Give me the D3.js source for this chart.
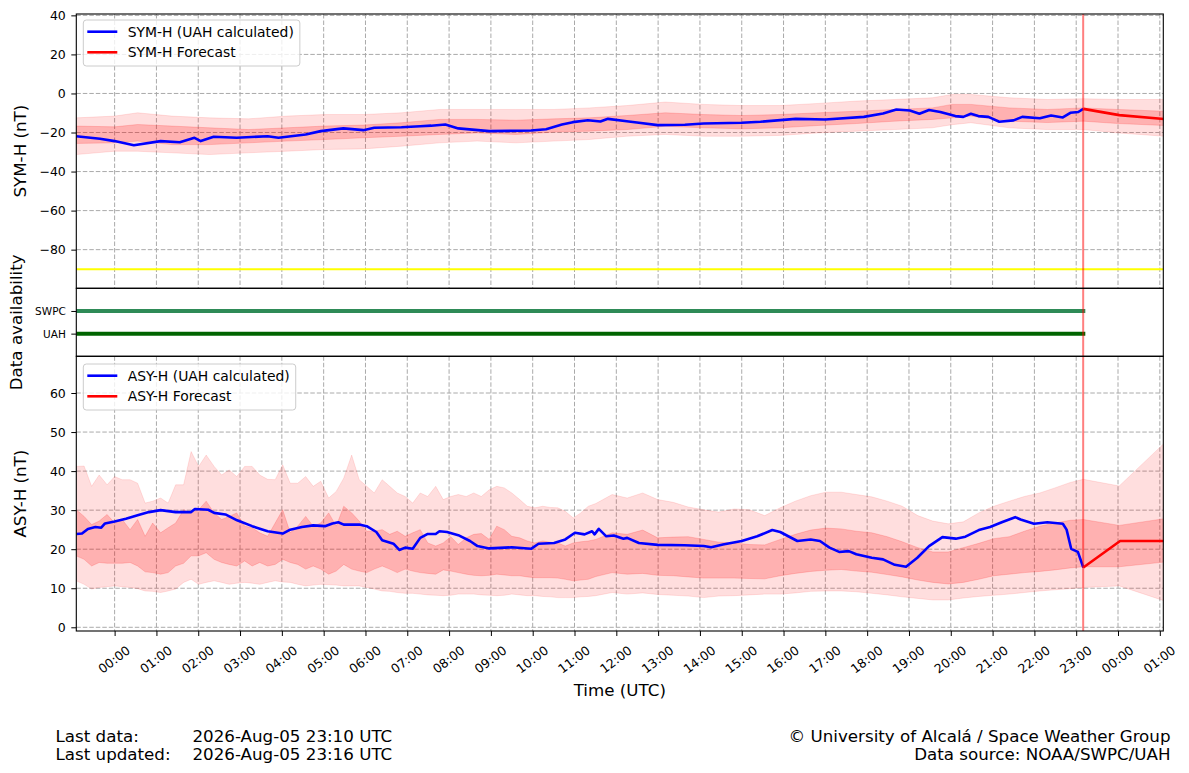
<!DOCTYPE html>
<meta charset="utf-8">
<html>
<head>
<script src="https://cdn.jsdelivr.net/npm/d3@7"></script>
<style>
body { margin: 0; background: #fff; }
text { font-family: "DejaVu Sans", sans-serif; fill: #000; }
</style>
<title>SYM-H / ASY-H forecast</title>
</head>
<body>
<script>
// all times are hours counted from 2026-08-05 00:00 UTC
var startHour = -55 / 60, endHour = 25 + 5 / 60, nowHour = 23 + 10 / 60;

// SYM-H (UAH calculated)
var symHours = [-0.92,-0.35,0,0.46,1.1,1.56,1.91,2.06,2.37,2.92,3.66,3.92,4.57,4.93,5.47,5.95,6.21,6.86,7.31,7.57,7.91,8.22,8.96,9.96,10.32,10.7,10.96,11.32,11.62,11.8,12.25,12.54,12.99,13.64,14.09,15.0,15.45,16.29,17.0,17.92,18.38,18.7,19.02,19.25,19.48,19.75,20.11,20.3,20.48,20.66,20.9,21.16,21.5,21.71,22.13,22.4,22.68,22.86,23.05,23.17];
var symValues = [-21.9,-23.2,-24.4,-26.5,-24.4,-25,-22.7,-24.4,-22.2,-22.7,-21.9,-22.7,-21,-19.3,-17.9,-18.8,-17.6,-17.3,-16.8,-16.5,-15.9,-17.9,-19.3,-19,-18.3,-15.9,-14.7,-13.7,-14.4,-13,-14.2,-15,-16.2,-16,-15.4,-15,-14.5,-13,-13.3,-12,-10.3,-8.2,-8.7,-10.4,-8.5,-9.5,-11.6,-12,-10.4,-11.6,-12,-14.5,-13.8,-12,-12.7,-11.3,-12.3,-9.9,-9.5,-7.9];
var symFcHours = [23.17, 24.03, 25.1];
var symFcValues = [-7.9, -11.1, -13.1];
// SYM-H uncertainty bands
var symBandHours = [-0.92,0,0.55,1.37,2.27,3.2,4.11,5.02,5.95,6.86,7.77,8.67,9.6,10.51,11.35,12.25,13.17,14.09,15.0,15.91,16.83,17.75,18.65,19.56,20.03,20.48,21.4,22.31,23.17,24.0,25.1];
var symOuterHigh = [-12.5,-11.6,-9.9,-11.6,-12.5,-13.0,-11.6,-10.8,-10.8,-9.9,-8.2,-8.2,-8.2,-8.2,-7.4,-6.2,-4.4,-5.6,-6.2,-6.2,-5.1,-3.9,-3.1,-2.2,-0.5,-0.5,-2.2,-3.1,-2.7,-3.1,-3.1];
var symOuterLow = [-31.3,-29.6,-29.6,-30.4,-31.3,-30.4,-29.6,-28.7,-28.4,-27.0,-25.3,-24.4,-25.3,-24.4,-23.6,-21.9,-21.0,-21.9,-21.9,-21.5,-20.2,-19.3,-18.5,-17.6,-16.0,-15.0,-17.6,-18.5,-18.5,-20.2,-21.9];
var symInnerHigh = [-16.7,-17.1,-15.9,-16.7,-17.6,-18.5,-17.6,-16.7,-16.2,-15.0,-13.3,-13.3,-13.7,-13.0,-12.5,-11.3,-9.9,-10.8,-11.3,-10.8,-9.9,-9.1,-8.2,-7.4,-5.6,-5.6,-7.4,-8.2,-7.4,-8.2,-9.1];
var symInnerLow = [-25.6,-25.3,-24.4,-26.2,-26.2,-25.3,-24.4,-23.6,-22.7,-21.9,-21.0,-20.2,-21.0,-19.8,-19.3,-18.5,-16.8,-17.6,-18.1,-17.6,-16.4,-15.4,-14.2,-13.3,-12.5,-11.6,-14.2,-14.9,-14.2,-15.4,-16.4];
var symThreshold = -90;
var symTicks = [-80, -60, -40, -20, 0, 20, 40];

// ASY-H (UAH calculated)
var asyHours = [-0.91,-0.78,-0.64,-0.46,-0.32,-0.23,0,0.27,0.55,0.82,1.1,1.46,1.83,1.92,2.24,2.38,2.65,2.93,3.29,3.66,4.02,4.2,4.48,4.75,5.03,5.21,5.35,5.48,5.85,6.03,6.26,6.4,6.67,6.81,6.95,7.13,7.31,7.49,7.68,7.77,7.95,8.22,8.5,8.68,8.96,9.5,9.96,10.14,10.51,10.78,11.01,11.24,11.42,11.48,11.58,11.76,11.94,12.17,12.26,12.54,12.99,13.63,14.09,14.27,14.55,15.0,15.37,15.73,15.92,16.33,16.65,16.87,17.1,17.33,17.56,17.74,18.11,18.38,18.66,18.93,19.2,19.48,19.8,20.12,20.35,20.67,20.94,21.22,21.54,21.67,21.99,22.31,22.68,22.77,22.88,23.04,23.17];
var asyValues = [23.9,24.0,25.2,25.7,25.5,26.6,27.1,27.8,28.7,29.5,30.0,29.5,29.5,30.3,30.1,29.3,28.9,27.4,25.9,24.6,24.0,25.0,25.7,26.1,25.9,26.6,26.9,26.3,26.3,25.9,24.4,22.3,21.4,19.8,20.4,20.1,22.9,23.9,23.9,24.6,24.4,23.6,22.1,20.8,20.2,20.5,20.1,21.4,21.6,22.5,24.2,23.8,24.6,23.8,25.2,23.3,23.5,22.7,22.9,21.6,21.1,21.0,20.8,20.5,21.2,22.1,23.3,24.9,24.4,22.1,22.5,22.1,20.4,19.3,19.5,18.7,17.8,17.4,16.0,15.5,17.8,20.8,23.1,22.7,23.2,24.9,25.7,26.9,28.2,27.6,26.5,26.9,26.5,25.0,20.1,19.3,15.3];
var asyFcHours = [23.17, 24.05, 25.1];
var asyFcValues = [15.3, 22.1, 22.1];
// ASY-H uncertainty bands
var asyBandHours = [-0.92,-0.73,-0.55,-0.37,-0.18,0,0.18,0.37,0.55,0.73,0.91,1.1,1.28,1.46,1.65,1.83,2.01,2.19,2.38,2.56,2.74,2.92,3.11,3.29,3.47,3.66,3.84,4.02,4.2,4.38,4.57,4.75,4.93,5.12,5.3,5.48,5.67,5.85,6.03,6.21,6.4,6.58,6.76,6.95,7.13,7.31,7.49,7.68,7.86,8.04,8.22,8.41,8.59,8.77,8.96,9.14,9.32,9.5,9.69,9.87,10.05,10.24,10.42,10.6,10.78,10.97,11.15,11.33,11.51,11.9,12.26,12.63,12.99,13.36,13.72,14.09,14.45,14.82,15.18,15.55,15.92,16.28,16.65,17.01,17.38,17.74,18.11,18.48,18.84,19.21,19.57,19.94,20.3,20.67,21.03,21.4,21.76,22.13,22.49,22.86,23.17,24.03,25.1];
var asyOuterLow = [11.9,11.0,9.8,10.2,10.4,10.6,10.4,10.2,9.9,9.3,9.2,8.9,9.3,9.8,11.5,12.3,11.0,11.5,11.9,11.5,11.0,11.3,11.5,11.3,11.0,11.5,11.9,11.6,11.5,11.0,10.6,10.8,11.0,10.9,10.8,10.6,10.6,10.6,10.2,9.8,9.3,9.2,8.9,8.7,8.7,8.5,8.3,8.2,8.1,8.2,8.5,8.5,8.5,8.3,8.2,8.1,8.2,8.5,8.3,8.1,8.1,7.9,7.8,7.6,7.6,7.6,7.8,7.9,8.1,8.9,8.5,8.8,8.4,8.2,8.0,7.6,8.0,8.1,8.3,8.5,8.5,8.8,9.2,9.3,9.3,9.1,8.7,8.3,7.8,7.4,7.0,7.0,7.5,7.9,8.2,8.5,8.9,9.3,9.6,9.9,10.2,10.6,6.8];
var asyInnerLow = [18.3,17.4,15.7,16.6,16.4,16.4,16.4,16.6,15.7,14.2,14.0,13.6,14.0,15.7,16.4,18.3,18.3,19.1,17.4,16.6,16.1,15.7,17.0,15.7,16.6,15.7,16.1,17.4,16.6,16.1,14.9,15.7,14.9,13.6,14.4,16.1,14.9,14.4,14.0,14.9,15.7,14.9,14.0,14.9,14.4,14.0,13.8,13.6,14.7,14.4,14.0,13.6,13.3,13.2,13.3,13.6,13.4,13.2,13.2,12.9,12.7,12.7,12.7,12.6,12.3,11.9,12.1,12.3,13.0,14.0,13.6,13.8,13.3,13.2,12.9,12.6,12.6,12.6,12.5,12.4,13.2,13.8,14.3,14.6,14.8,14.4,14.1,13.5,12.9,12.1,11.5,11.1,11.5,12.3,13.2,13.6,14.0,14.3,14.7,15.2,15.5,15.5,16.7];
var asyInnerHigh = [30.1,28.4,26.3,27.2,28.9,26.7,27.6,25.0,27.6,23.3,26.7,24.2,25.5,26.7,30.1,29.3,30.1,32.3,29.3,27.6,28.4,29.3,25.9,25.5,24.2,23.3,26.7,30.1,24.2,25.9,28.4,25.9,26.7,29.3,25.9,31.0,29.3,27.2,24.6,24.6,25.0,23.8,24.6,23.3,24.2,25.0,21.6,20.8,21.6,23.2,21.2,22.9,23.8,24.0,22.5,25.9,25.0,23.3,22.9,22.1,21.6,22.1,21.8,21.6,20.8,21.6,21.9,22.1,22.5,24.2,23.8,24.9,22.9,23.1,23.2,22.5,21.8,21.6,21.2,21.1,22.5,23.8,24.9,25.4,25.2,24.6,24.2,23.2,21.9,20.4,19.3,19.3,20.4,21.5,22.7,23.2,24.6,25.9,26.7,27.4,27.6,26.1,27.8];
var asyOuterHigh = [41.2,41.3,36.1,39.0,36.5,38.6,37.8,37.8,36.9,31.8,32.3,33.1,31.8,36.5,36.5,45.0,41.2,44.1,41.2,39.0,40.3,38.6,41.2,41.2,39.0,37.9,37.8,41.6,36.9,36.9,38.6,36.1,37.4,33.1,34.8,38.2,44.1,37.8,36.1,34.4,37.8,36.1,34.4,33.5,31.8,34.4,33.5,36.1,32.7,33.5,34.0,33.5,34.4,33.5,35.2,36.1,35.7,34.4,32.7,31.0,30.6,31.0,30.7,30.6,29.7,28.0,29.3,31.0,31.7,34.0,33.1,34.4,32.7,32.0,30.8,30.1,29.5,30.3,30.1,28.6,30.6,32.3,33.7,34.6,34.6,34.0,33.4,32.3,31.0,28.6,27.2,26.5,27.0,29.3,31.0,32.3,33.5,34.4,35.7,37.1,37.9,36.2,47.1];
var asyTicks = [0, 10, 20, 30, 40, 50, 60];

// data availability
var availSources = ["UAH", "SWPC"];
var availColors = ["#006400", "#2e8b57"];
var availFrom = [-0.92, -0.92];
var availTo = [23.17, 23.17];

var footerLeft = [["Last data:", "2026-Aug-05 23:10 UTC"], ["Last updated:", "2026-Aug-05 23:16 UTC"]];
var footerRight = ["\u00a9 University of Alcal\u00e1 / Space Weather Group", "Data source: NOAA/SWPC/UAH"];

var W = 1189, H = 773;
var plotLeft = 76.3, plotRight = 1163.3;
var topPanel = [14, 288.3], midPanel = [288.3, 356.3], botPanel = [356.3, 631];
var base = Date.UTC(2026, 7, 5);
function t(h) { return new Date(base + h * 3600e3); }

var x = d3.scaleUtc().domain([t(startHour), t(endHour)]).range([plotLeft, plotRight]);
var ySym = d3.scaleLinear().domain([-99.8, 40.7]).range([topPanel[1], topPanel[0]]);
var yAv = d3.scaleLinear().domain([-1, 2]).range([midPanel[1], midPanel[0]]);
var yAsy = d3.scaleLinear().domain([-0.95, 69.4]).range([botPanel[1], botPanel[0]]);
var hourTicks = x.ticks(d3.utcHour.every(1));

var svg = d3.select("body").append("svg").attr("width", W).attr("height", H);
svg.append("rect").attr("width", W).attr("height", H).attr("fill", "white");
var defs = svg.append("defs");

function makeClip(id, p) {
    defs.append("clipPath").attr("id", id).append("rect")
        .attr("x", plotLeft).attr("y", p[0]).attr("width", plotRight - plotLeft).attr("height", p[1] - p[0]);
}
makeClip("clipTop", topPanel);
makeClip("clipMid", midPanel);
makeClip("clipBot", botPanel);

function grid(g, y, p, ticks) {
    g.selectAll(".gx").data(hourTicks).enter().append("line")
        .attr("x1", d => x(d)).attr("x2", d => x(d)).attr("y1", p[0]).attr("y2", p[1])
        .attr("stroke", "#aaaaaa").attr("stroke-dasharray", "4.5,2").attr("stroke-width", 1);
    g.selectAll(".gy").data(ticks).enter().append("line")
        .attr("x1", plotLeft).attr("x2", plotRight).attr("y1", d => y(d)).attr("y2", d => y(d))
        .attr("stroke", "#aaaaaa").attr("stroke-dasharray", "4.5,2").attr("stroke-width", 1);
}

function band(g, y, hours, lo, hi, opacity) {
    var area = d3.area().x((d, i) => x(t(hours[i]))).y0((d, i) => y(lo[i])).y1((d, i) => y(hi[i]));
    g.append("path").datum(hours).attr("d", area)
        .attr("fill", "red").attr("fill-opacity", opacity)
        .attr("stroke", "red").attr("stroke-opacity", opacity * 0.8).attr("stroke-width", 1);
}

function series(g, y, hours, vals, color) {
    var line = d3.line().x((d, i) => x(t(hours[i]))).y((d, i) => y(vals[i]));
    g.append("path").datum(hours).attr("d", line)
        .attr("fill", "none").attr("stroke", color).attr("stroke-width", 2.6)
        .attr("stroke-linejoin", "round");
}

function nowLine(g, p) {
    g.append("line").attr("x1", x(t(nowHour))).attr("x2", x(t(nowHour)))
        .attr("y1", p[0]).attr("y2", p[1])
        .attr("stroke", "red").attr("stroke-opacity", 0.5).attr("stroke-width", 2);
}

function yAxis(y, ticks, fontSize) {
    var g = svg.append("g").attr("transform", "translate(" + plotLeft + ",0)")
        .call(d3.axisLeft(y).tickValues(ticks).tickSize(5).tickPadding(5.5));
    g.select(".domain").remove();
    g.selectAll(".tick line").attr("stroke", "#000");
    g.selectAll(".tick text").attr("font-size", fontSize).attr("font-family", "DejaVu Sans");
    return g;
}

function legend(y0, labels) {
    var g = svg.append("g");
    var box = g.append("rect").attr("x", 83.3).attr("y", y0).attr("height", 46).attr("rx", 3)
        .attr("fill", "white").attr("fill-opacity", 0.8).attr("stroke", "#cccccc");
    var maxLen = 0;
    labels.forEach(function(l, i) {
        var ly = y0 + 11.7 + i * 20.6;
        g.append("line").attr("x1", 87.3).attr("x2", 117.3).attr("y1", ly).attr("y2", ly)
            .attr("stroke", l[1]).attr("stroke-width", 2.6);
        var tx = g.append("text").attr("x", 127.7).attr("y", ly).attr("dy", "0.36em")
            .attr("font-size", 13.9).text(l[0]);
        maxLen = Math.max(maxLen, tx.node().getComputedTextLength());
    });
    box.attr("width", 127.7 + maxLen + 6 - 83.3);
}

function yLabel(text, bx, cy) {
    svg.append("text").attr("transform", "translate(" + bx + "," + cy + ") rotate(-90)")
        .attr("text-anchor", "middle").attr("font-size", 16.7).text(text);
}

// ---- top panel: SYM-H ----
var gTop = svg.append("g").attr("clip-path", "url(#clipTop)");
grid(gTop, ySym, topPanel, symTicks);
band(gTop, ySym, symBandHours, symOuterLow, symOuterHigh, 0.13);
band(gTop, ySym, symBandHours, symInnerLow, symInnerHigh, 0.2);
gTop.append("line").attr("x1", plotLeft).attr("x2", plotRight)
    .attr("y1", ySym(symThreshold)).attr("y2", ySym(symThreshold))
    .attr("stroke", "#ffff00").attr("stroke-width", 2);
series(gTop, ySym, symHours, symValues, "#0000ff");
series(gTop, ySym, symFcHours, symFcValues, "#ff0000");
nowLine(gTop, topPanel);
yAxis(ySym, symTicks, 12.5);
legend(20, [["SYM-H (UAH calculated)", "#0000ff"], ["SYM-H Forecast", "#ff0000"]]);
yLabel("SYM-H (nT)", 25.5, (topPanel[0] + topPanel[1]) / 2);

// ---- middle panel: data availability ----
var gMid = svg.append("g").attr("clip-path", "url(#clipMid)");
gMid.selectAll(".avail").data(availSources).enter().append("line")
    .attr("x1", (d, i) => x(t(availFrom[i]))).attr("x2", (d, i) => x(t(availTo[i])))
    .attr("y1", (d, i) => yAv(i)).attr("y2", (d, i) => yAv(i))
    .attr("stroke", (d, i) => availColors[i]).attr("stroke-width", 4).attr("stroke-linecap", "square");
nowLine(gMid, midPanel);
var avAxis = svg.append("g").attr("transform", "translate(" + plotLeft + ",0)")
    .call(d3.axisLeft(yAv).tickValues([0, 1]).tickSize(5).tickPadding(5.5).tickFormat(d => availSources[d]));
avAxis.select(".domain").remove();
avAxis.selectAll(".tick text").attr("font-size", 10.5).attr("font-family", "DejaVu Sans");
yLabel("Data availability", 21.8, (midPanel[0] + midPanel[1]) / 2);

// ---- bottom panel: ASY-H ----
var gBot = svg.append("g").attr("clip-path", "url(#clipBot)");
grid(gBot, yAsy, botPanel, asyTicks);
band(gBot, yAsy, asyBandHours, asyOuterLow, asyOuterHigh, 0.13);
band(gBot, yAsy, asyBandHours, asyInnerLow, asyInnerHigh, 0.2);
series(gBot, yAsy, asyHours, asyValues, "#0000ff");
series(gBot, yAsy, asyFcHours, asyFcValues, "#ff0000");
nowLine(gBot, botPanel);
yAxis(yAsy, asyTicks, 12.5);
legend(364, [["ASY-H (UAH calculated)", "#0000ff"], ["ASY-H Forecast", "#ff0000"]]);
yLabel("ASY-H (nT)", 25.5, (botPanel[0] + botPanel[1]) / 2);

// ---- time axis ----
var xAxis = svg.append("g").attr("transform", "translate(0," + botPanel[1] + ")")
    .call(d3.axisBottom(x).tickValues(hourTicks).tickSize(5).tickFormat(d3.utcFormat("%H:%M")));
xAxis.select(".domain").remove();
xAxis.selectAll(".tick text")
    .attr("font-size", 12.5).attr("font-family", "DejaVu Sans")
    .attr("y", 0).attr("dy", null)
    .attr("text-anchor", "middle").attr("dominant-baseline", "central")
    .attr("transform", "translate(-1,28.5) rotate(-37)");
svg.append("text").attr("x", (plotLeft + plotRight) / 2).attr("y", 696)
    .attr("text-anchor", "middle").attr("font-size", 16.7).text("Time (UTC)");

// panel frames
[topPanel, midPanel, botPanel].forEach(function(p) {
    svg.append("rect").attr("x", plotLeft).attr("y", p[0])
        .attr("width", plotRight - plotLeft).attr("height", p[1] - p[0])
        .attr("fill", "none").attr("stroke", "#000").attr("stroke-width", 1.1);
});

// footer
footerLeft.forEach(function(r, i) {
    svg.append("text").attr("x", 55.5).attr("y", 742.3 + i * 17.8).attr("font-size", 16.7).text(r[0]);
    svg.append("text").attr("x", 192.5).attr("y", 742.3 + i * 17.8).attr("font-size", 16.7).text(r[1]);
});
footerRight.forEach(function(r, i) {
    svg.append("text").attr("x", 1170.5).attr("y", 742.3 + i * 17.8)
        .attr("text-anchor", "end").attr("font-size", 16.7).text(r);
});
</script>
</body>
</html>
